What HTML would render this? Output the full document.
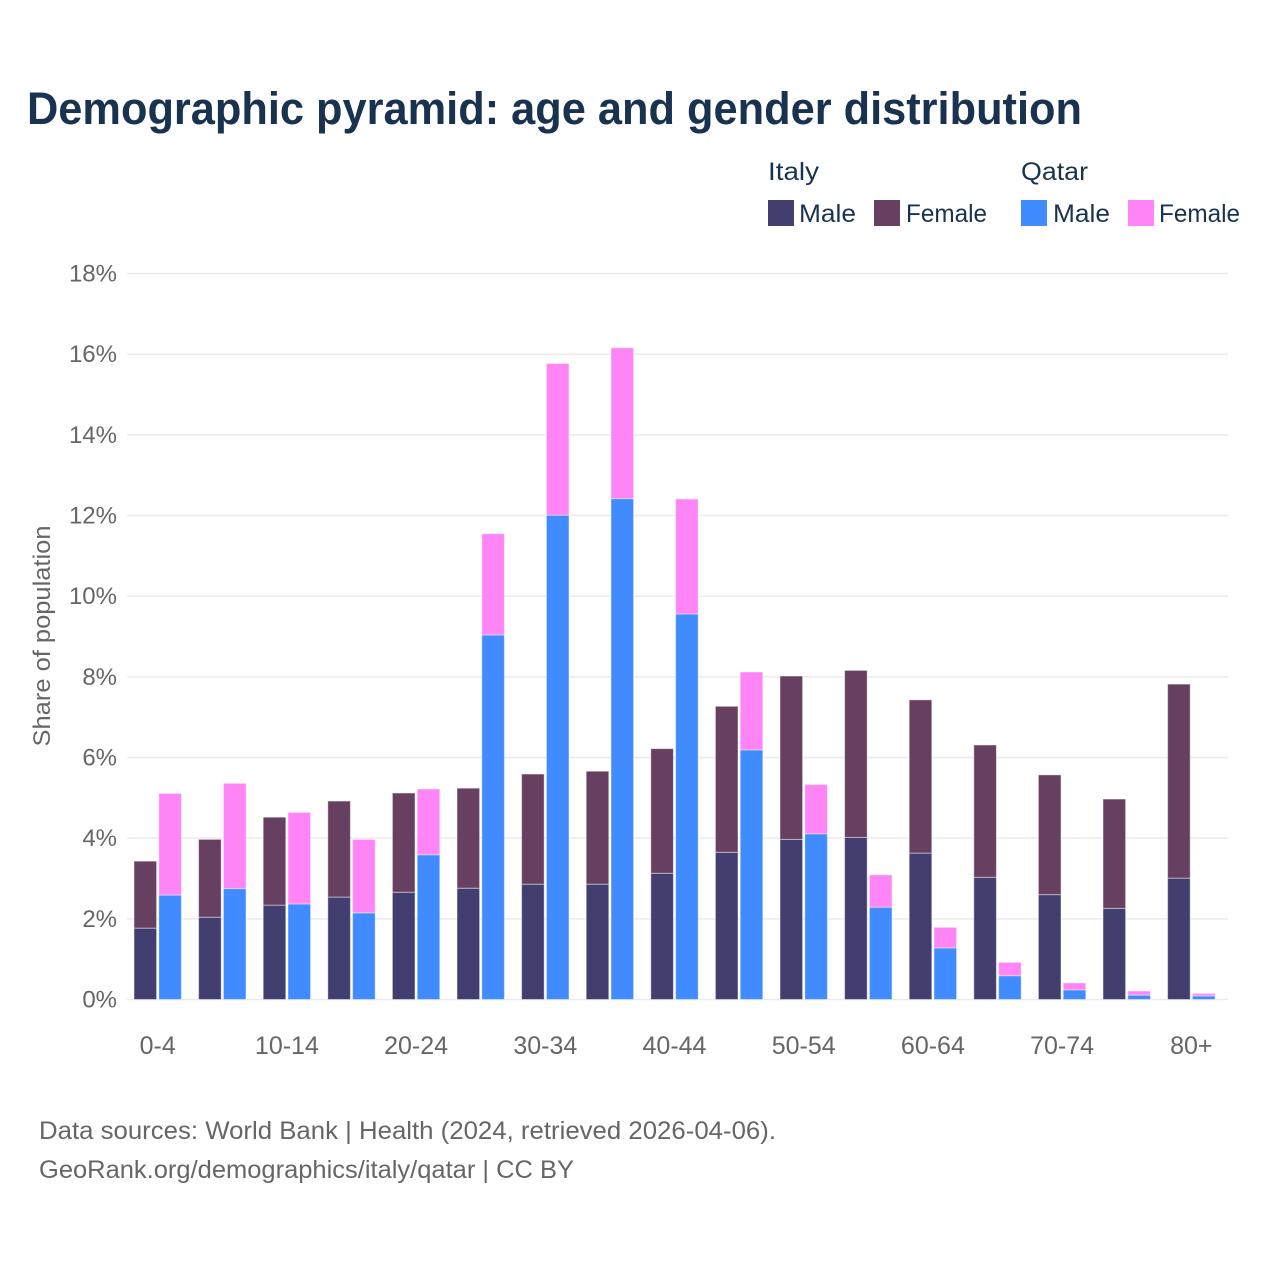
<!DOCTYPE html>
<html lang="en">
<head>
<meta charset="utf-8">
<title>Demographic pyramid: age and gender distribution</title>
<style>
html,body{margin:0;padding:0;background:#fff;width:1280px;height:1280px;overflow:hidden}
svg{display:block}
text{font-family:"Liberation Sans",sans-serif}
</style>
</head>
<body>
<svg id="chart" xmlns="http://www.w3.org/2000/svg" width="1280" height="1280" viewBox="0 0 1280 1280">
  <rect width="1280" height="1280" fill="#fff"/>
  <text x="27" y="124" font-size="45" font-weight="700" fill="#19324f" textLength="1055" lengthAdjust="spacingAndGlyphs">Demographic pyramid: age and gender distribution</text>

  <g font-size="25" fill="#19324f">
    <text x="768" y="180" textLength="51" lengthAdjust="spacingAndGlyphs">Italy</text>
    <text x="1021" y="180" textLength="67" lengthAdjust="spacingAndGlyphs">Qatar</text>
    <rect x="768" y="200" width="26" height="26" fill="#423e70"/>
    <text x="799" y="222" textLength="57" lengthAdjust="spacingAndGlyphs">Male</text>
    <rect x="874" y="200" width="26" height="26" fill="#674061"/>
    <text x="906" y="222" textLength="81" lengthAdjust="spacingAndGlyphs">Female</text>
    <rect x="1021" y="200" width="26" height="26" fill="#408bff"/>
    <text x="1053" y="222" textLength="57" lengthAdjust="spacingAndGlyphs">Male</text>
    <rect x="1128" y="200" width="26" height="26" fill="#ff85f7"/>
    <text x="1159" y="222" textLength="81" lengthAdjust="spacingAndGlyphs">Female</text>
  </g>

  <g id="grid"></g>
  <g id="bars"></g>
  <g id="y-ticks"></g>
  <g id="x-ticks"></g>

  <text transform="translate(50,636) rotate(-90)" text-anchor="middle" font-size="24" fill="#666" textLength="221" lengthAdjust="spacingAndGlyphs">Share of population</text>

  <text x="39" y="1139" font-size="25" fill="#666" textLength="737" lengthAdjust="spacingAndGlyphs">Data sources: World Bank | Health (2024, retrieved 2026-04-06).</text>
  <text x="39" y="1178" font-size="25" fill="#666" textLength="535" lengthAdjust="spacingAndGlyphs">GeoRank.org/demographics/italy/qatar | CC BY</text>
</svg>
<script>
const ageGroups = ['0-4','5-9','10-14','15-19','20-24','25-29','30-34','35-39','40-44','45-49','50-54','55-59','60-64','65-69','70-74','75-79','80+'];
const italyMale = [1.78,2.05,2.35,2.55,2.67,2.77,2.87,2.87,3.14,3.66,3.98,4.03,3.64,3.04,2.61,2.27,3.02];
const italyFemale = [1.66,1.93,2.18,2.38,2.46,2.48,2.73,2.80,3.09,3.62,4.05,4.14,3.80,3.28,2.97,2.71,4.81];
const qatarMale = [2.60,2.76,2.38,2.16,3.60,9.05,12.02,12.43,9.57,6.20,4.12,2.30,1.29,0.60,0.25,0.12,0.10];
const qatarFemale = [2.52,2.61,2.27,1.82,1.63,2.51,3.76,3.74,2.85,1.93,1.22,0.80,0.51,0.33,0.17,0.10,0.06];
const yTicks = [0,2,4,6,8,10,12,14,16,18];
const xTickEvery = 2;

const NS = 'http://www.w3.org/2000/svg';
const yScale = v => 999.5 - v * 40.33;
const xScale = i => 134 + i * 64.6;
const barWidth = 22.6;
const barGap = 2.2;
const barNudge = 0.4;

function makeEl(tag, parent, attrs) {
  const el = document.createElementNS(NS, tag);
  for (const k in attrs) el.setAttribute(k, attrs[k]);
  parent.appendChild(el);
  return el;
}

const gridG = document.getElementById('grid');
const yG = document.getElementById('y-ticks');
yTicks.forEach(t => {
  const line = makeEl('line', gridG, {x1:127, x2:1228, y1:yScale(t), y2:yScale(t), stroke:'#ebebeb', 'stroke-width':1.5});
  
  
  const label = makeEl('text', yG, {x:117, y:yScale(t)+8, 'text-anchor':'end', 'font-size':24, fill:'#666'});
  label.textContent = t + '%';
  
  
});

const barsG = document.getElementById('bars');
function drawSegment(x, base, val, color, name) {
  const top = yScale(base + val) + barNudge;
  const bottom = base === 0 ? yScale(0) : yScale(base) + barNudge;
  const r = makeEl('rect', barsG, {x:x, y:top, width:barWidth, height:bottom-top, fill:color, stroke:'rgba(255,255,255,0.45)', 'stroke-width':1});
  
  
}
ageGroups.forEach((g, i) => {
  const x1 = xScale(i);
  const x2 = x1 + barWidth + barGap;
  drawSegment(x1, 0, italyMale[i], '#423e70', 'bar-italy-male');
  drawSegment(x1, italyMale[i], italyFemale[i], '#674061', 'bar-italy-female');
  drawSegment(x2, 0, qatarMale[i], '#408bff', 'bar-qatar-male');
  drawSegment(x2, qatarMale[i], qatarFemale[i], '#ff85f7', 'bar-qatar-female');
});

const xG = document.getElementById('x-ticks');
ageGroups.forEach((g, i) => {
  if (i % xTickEvery !== 0) return;
  const label = makeEl('text', xG, {x:xScale(i)+barWidth+barGap/2, y:1054, 'text-anchor':'middle', 'font-size':25, fill:'#666'});
  label.textContent = g;
  
  
});
</script>
</body>
</html>
